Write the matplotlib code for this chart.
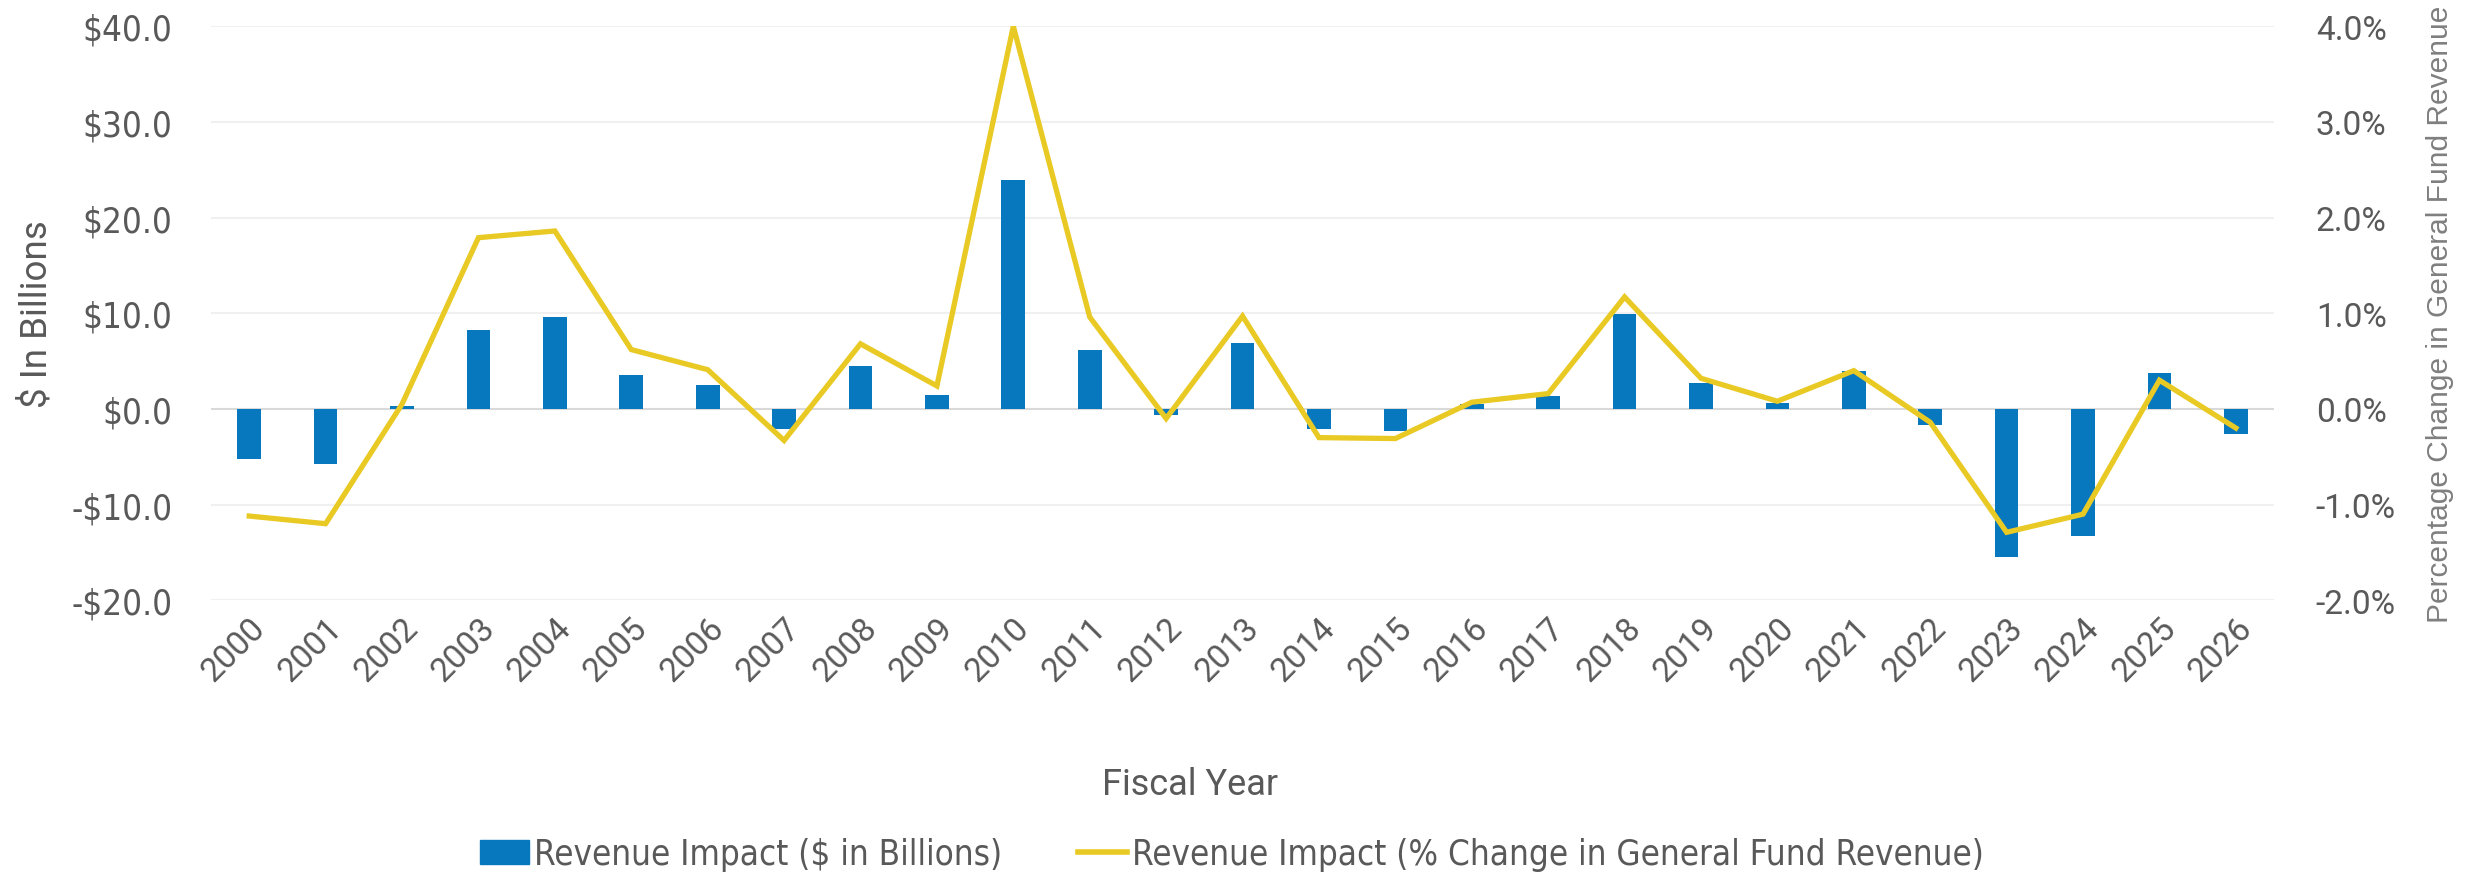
import matplotlib
matplotlib.use("Agg")
import matplotlib.pyplot as plt
import matplotlib.ticker as mticker
import numpy as np
from matplotlib.patches import Patch
from matplotlib.lines import Line2D

# data
years = [str(y) for y in range(2000, 2027)]
impact_billions = [-5.2, -5.8, 0.3, 8.3, 9.6, 3.5, 2.5, -2.1, 4.5, 1.5,
                   23.9, 6.2, -0.6, 6.9, -2.1, -2.3, 0.5, 1.3, 9.9, 2.7,
                   0.6, 4.0, -1.7, -15.5, -13.3, 3.8, -2.6]
impact_pct = [-1.12, -1.20, 0.05, 1.79, 1.86, 0.62, 0.41, -0.33, 0.68, 0.24,
              4.00, 0.96, -0.10, 0.97, -0.30, -0.31, 0.07, 0.16, 1.17, 0.32,
              0.08, 0.40, -0.14, -1.29, -1.10, 0.30, -0.20]

bar_color = "#0777BE"
line_color = "#E9C923"
text_color = "#595959"

narrow = ["Liberation Sans Narrow", "DejaVu Sans"]
wide = ["Roboto", "DejaVu Sans"]

fig = plt.figure(figsize=(24.71, 8.79), dpi=100)
ax = fig.add_axes([0.0854, 0.316, 0.8349, 0.653])
ax2 = ax.twinx()

x = np.arange(len(years))
ax.bar(x, impact_billions, width=0.31, color=bar_color, zorder=3)
ax2.plot(x, impact_pct, color=line_color, lw=3.8, solid_joinstyle="miter", zorder=4)

ax.set_xlim(-0.5, len(years) - 0.5)
ax.set_ylim(-20, 40)
ax2.set_ylim(-2, 4)
ax.set_yticks(np.arange(-20, 41, 10))
ax2.set_yticks(np.arange(-2, 4.1, 1))

ax.yaxis.set_major_formatter(mticker.FuncFormatter(
    lambda v, p: ("-$%.1f" % abs(v)) if v < 0 else ("$%.1f" % v)))
ax2.yaxis.set_major_formatter(mticker.FuncFormatter(lambda v, p: "%.1f%%" % v))

# gridlines
for v in np.arange(-20, 41, 10):
    ax.axhline(v, color="#D9D9D9" if v == 0 else "#F0F0F0", lw=1.5, zorder=1)

for a in (ax, ax2):
    for s in a.spines.values():
        s.set_visible(False)
    a.tick_params(length=0)

ax.set_xticks(x)
ax.set_xticklabels(years, rotation=45, ha="right", rotation_mode="anchor",
                   fontsize=24, family=wide, color=text_color)
ax.tick_params(axis="x", pad=8)
for lab in ax.get_yticklabels():
    lab.set_fontsize(25)
    lab.set_family(narrow)
    lab.set_stretch("condensed")
    lab.set_color(text_color)
ax.tick_params(axis="y", pad=28)
for lab in ax2.get_yticklabels():
    lab.set_fontsize(24)
    lab.set_family(wide)
    lab.set_color(text_color)
ax2.tick_params(axis="y", pad=30)

ax.set_ylabel("$ In Billions", fontsize=26.5, family=wide, color=text_color, labelpad=12)
ax2.set_ylabel("Percentage Change in General Fund Revenue", fontsize=21.5,
               family=["Liberation Sans", "DejaVu Sans"], color="#7F7F7F", labelpad=22)
fig.text(0.4816, 0.0956, "Fiscal Year", fontsize=26, family=wide, color=text_color,
         ha="center", va="baseline")

handles = [Patch(color=bar_color), Line2D([], [], color=line_color, lw=4)]
labels = ["Revenue Impact ($ in Billions)",
          "Revenue Impact (% Change in General Fund Revenue)"]
fig.legend(handles, labels, loc="center", bbox_to_anchor=(0.4986, 0.027), ncol=2,
           frameon=False, prop={"family": narrow, "size": 25, "stretch": "condensed"},
           labelcolor=text_color, handlelength=1.4, handleheight=0.7,
           handletextpad=0.15, columnspacing=2.2)

fig.savefig("out.png", dpi=100)
